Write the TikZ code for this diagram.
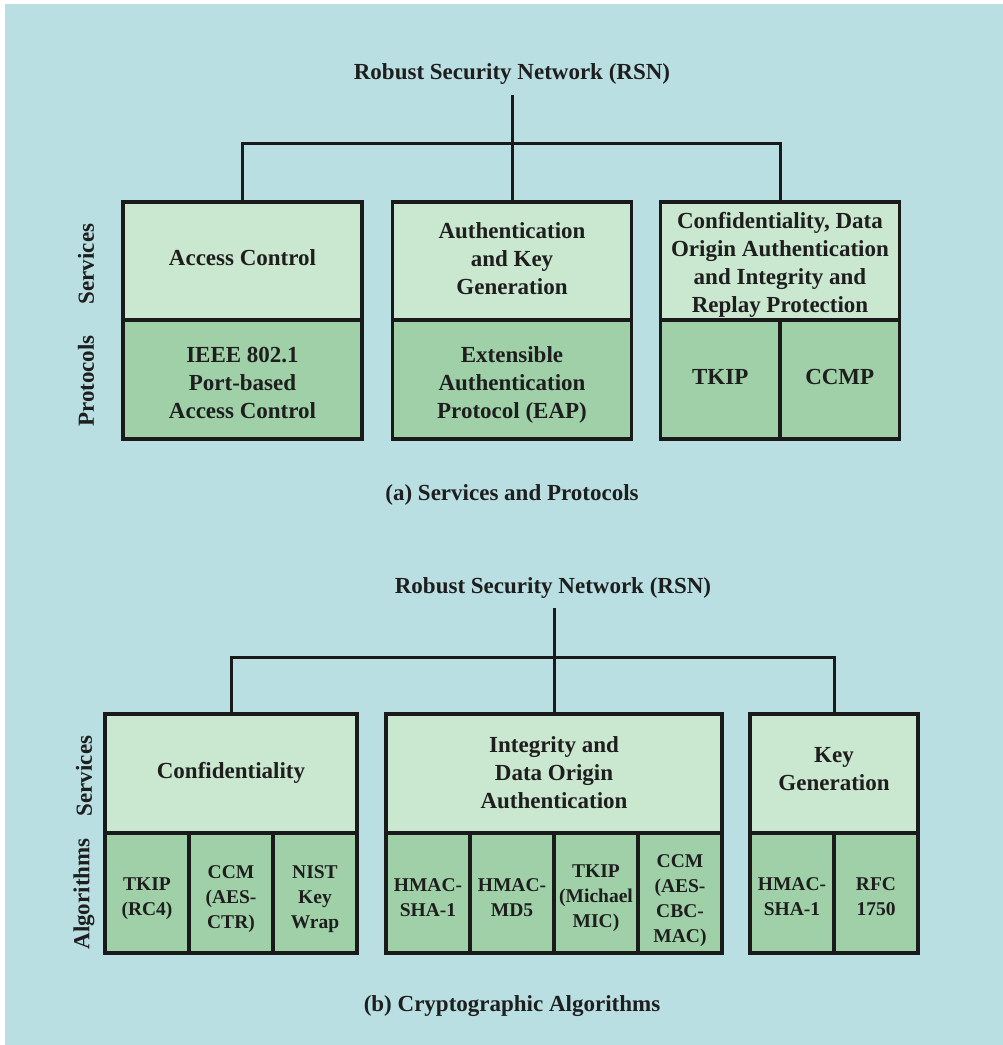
\documentclass[tikz,border=0pt]{standalone}
\usepackage{fontspec}
\setmainfont{Liberation Serif}
\definecolor{bgblue}{HTML}{B9DFE2}
\definecolor{svcgreen}{HTML}{CAE7CF}
\definecolor{protgreen}{HTML}{9FD0A8}
\definecolor{linecol}{HTML}{1A1A1A}
\definecolor{txtcol}{HTML}{1E1E1E}
\newcommand{\hdfont}{\fontsize{23}{28}\selectfont\bfseries}
\newcommand{\cellfont}{\fontsize{19.5}{25}\selectfont\bfseries}
\begin{document}
\begin{tikzpicture}[x=1pt,y=-1pt,
  boxbase/.style={draw=linecol, line width=3.2pt, inner sep=0pt},
  svcbox/.style={boxbase, fill=svcgreen},
  protobox/.style={boxbase, fill=protgreen},
  algcell/.style={boxbase, fill=protgreen, minimum width=84pt, minimum height=120pt},
  plaintext/.style={font=\hdfont, text=txtcol, inner sep=0pt, align=center},
  celltext/.style={plaintext, font=\cellfont},
  sidetext/.style={plaintext, rotate=90},
  link/.style={draw=linecol, line width=3pt}]
\useasboundingbox (0,0) rectangle (1003,1045);
\fill[white] (0,0) rectangle (1003,1045);
\fill[bgblue] (5,4) rectangle (1003,1045);

% ---------- (a) Services and Protocols ----------
\node[plaintext] (rsnA) at (512,74) {Robust Security Network (RSN)};
\coordinate (tA) at (512,95);
\coordinate (jA) at (512,143);

\node[svcbox, minimum width=239pt, minimum height=118pt] (a1) at (242.5,261) {};
\node[svcbox, minimum width=239pt, minimum height=118pt] (a2) at (512,261) {};
\node[svcbox, minimum width=239pt, minimum height=118pt] (a3) at (780,261) {};
\node[protobox, minimum width=239pt, minimum height=119pt] (p1) at (242.5,379.5) {};
\node[protobox, minimum width=239pt, minimum height=119pt] (p2) at (512,379.5) {};
\node[protobox, minimum width=119.5pt, minimum height=119pt] (p3) at (720.25,379.5) {};
\node[protobox, minimum width=119.5pt, minimum height=119pt] (p4) at (839.75,379.5) {};

\node[plaintext] (a1t) at ([yshift=3.5pt]a1.center) {Access Control};
\node[plaintext] (a2t) at ([yshift=2pt]a2.center) {Authentication\\and Key\\Generation};
\node[plaintext] (a3t) at ([yshift=-4pt]a3.center) {Confidentiality, Data\\Origin Authentication\\and Integrity and\\Replay Protection};
\node[plaintext] (p1t) at ([yshift=-3pt]p1.center) {IEEE 802.1\\Port-based\\Access Control};
\node[plaintext] (p2t) at ([yshift=-5pt]p2.center) {Extensible\\Authentication\\Protocol (EAP)};
\node[plaintext] (p3t) at ([yshift=2.5pt]p3.center) {TKIP};
\node[plaintext] (p4t) at ([yshift=2.5pt]p4.center) {CCMP};

\draw[link] (tA) -- (a2.north);
\draw[link] (a1.north) |- (jA) -| (a3.north);

\node[sidetext] (sA) at (86,264) {Services};
\node[sidetext] (prA) at (86,381) {Protocols};

\node[plaintext] (capA) at (512,495) {(a) Services and Protocols};

% ---------- (b) Cryptographic Algorithms ----------
\node[plaintext] (rsnB) at (553,588) {Robust Security Network (RSN)};
\coordinate (tB) at (554,608);
\coordinate (jB) at (554,657);

\node[svcbox, minimum width=252pt, minimum height=119pt] (b1) at (231,773.5) {};
\node[svcbox, minimum width=336pt, minimum height=119pt] (b2) at (554,773.5) {};
\node[svcbox, minimum width=168pt, minimum height=119pt] (b3) at (834,773.5) {};

\node[plaintext] (b1t) at ([yshift=1pt]b1.center) {Confidentiality};
\node[plaintext] (b2t) at ([yshift=1pt]b2.center) {Integrity and\\Data Origin\\Authentication};
\node[plaintext] (b3t) at ([yshift=4.5pt]b3.center) {Key\\Generation};

\node[algcell] (c1) at (147,893) {};
\node[algcell] (c2) at (231,893) {};
\node[algcell] (c3) at (315,893) {};
\node[algcell] (c4) at (428,893) {};
\node[algcell] (c5) at (512,893) {};
\node[algcell] (c6) at (596,893) {};
\node[algcell] (c7) at (680,893) {};
\node[algcell] (c8) at (792,893) {};
\node[algcell] (c9) at (876,893) {};

\node[celltext] (c1t) at ([yshift=-6pt]c1.center) {TKIP\\(RC4)};
\node[celltext] (c2t) at ([yshift=-6pt]c2.center) {CCM\\(AES-\\CTR)};
\node[celltext] (c3t) at ([yshift=-6pt]c3.center) {NIST\\Key\\Wrap};
\node[celltext] (c4t) at ([yshift=-4.5pt]c4.center) {HMAC-\\SHA-1};
\node[celltext] (c5t) at ([yshift=-4.5pt]c5.center) {HMAC-\\MD5};
\node[celltext] (c6t) at ([yshift=-5pt]c6.center) {TKIP\\(Michael\\MIC)};
\node[celltext] (c7t) at ([yshift=-8pt]c7.center) {CCM\\(AES-\\CBC-\\MAC)};
\node[celltext] (c8t) at ([yshift=-4pt]c8.center) {HMAC-\\SHA-1};
\node[celltext] (c9t) at ([yshift=-4pt]c9.center) {RFC\\1750};

\draw[link] (tB) -- (b2.north);
\draw[link] (b1.north) |- (jB) -| (b3.north);

\node[sidetext] (sB) at (84,776) {Services};
\node[sidetext] (alB) at (84,894) {Algorithms};

\node[plaintext] (capB) at (512,1006) {(b) Cryptographic Algorithms};
\end{tikzpicture}
\end{document}
